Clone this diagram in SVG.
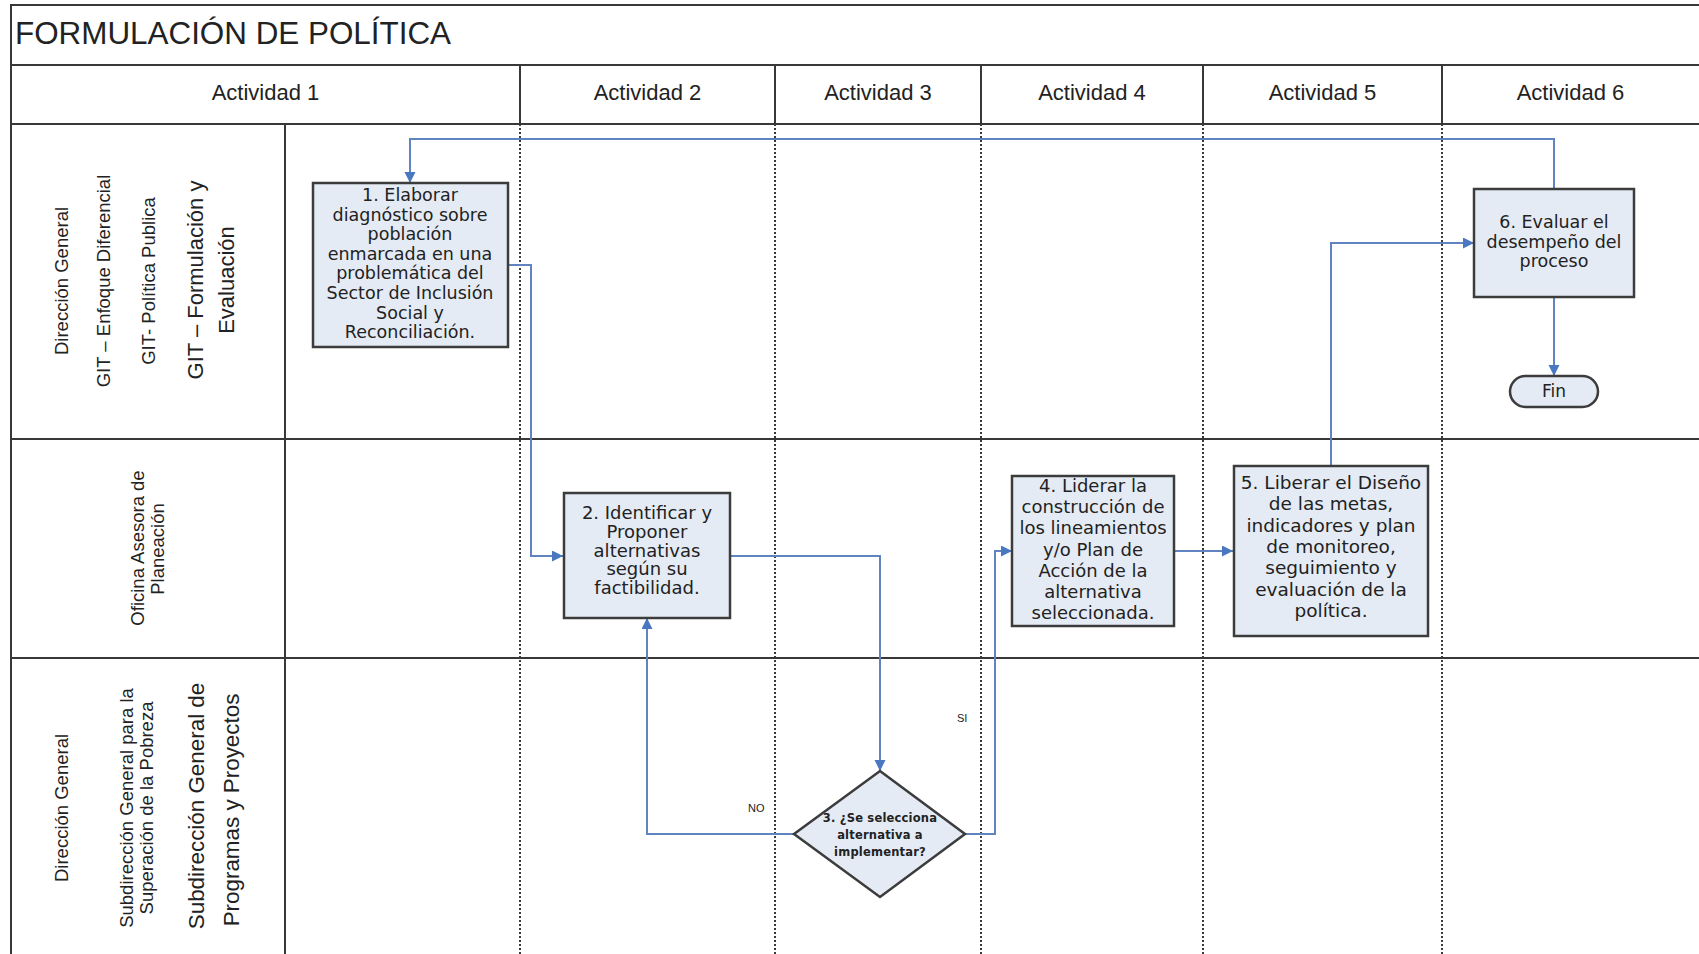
<svg xmlns="http://www.w3.org/2000/svg" width="1699" height="954" viewBox="0 0 1699 954">
<style>
.grid{stroke:#383838;stroke-width:2;fill:none}
.dot{stroke:#3a3a3a;stroke-width:2;stroke-dasharray:2 2;fill:none}
.hdr{font-family:"Liberation Sans",Arial,sans-serif;font-size:22px;fill:#222;text-anchor:middle}
.lane{font-family:"Liberation Sans",Arial,sans-serif;fill:#222;text-anchor:middle}
.box{fill:#e5ebf5;stroke:#3c3c3c;stroke-width:2.5}
.bt{font-family:"DejaVu Sans",Verdana,sans-serif;fill:#222;text-anchor:middle}
.conn{stroke:#5f84bf;stroke-width:2;fill:none}
.lbl{font-family:"Liberation Sans",Arial,sans-serif;font-size:11px;fill:#222}
</style>
<defs>
<marker id="arr" markerUnits="userSpaceOnUse" markerWidth="12" markerHeight="12" refX="11" refY="5.5" orient="auto">
<path d="M0,0 L11,5.5 L0,11 z" fill="#4a78c0"/>
</marker>
</defs>
<rect width="1699" height="954" fill="#ffffff"/>
<g id="grid">
<path class="grid" d="M1699,5 H11 V954"/>
<path class="grid" d="M11,65 H1699"/>
<path class="grid" d="M11,124 H1699"/>
<path class="grid" d="M11,439 H1699"/>
<path class="grid" d="M11,658 H1699"/>
<path class="grid" d="M285,124 V954"/>
<path class="grid" d="M520,65 V124 M775,65 V124 M981,65 V124 M1203,65 V124 M1442,65 V124"/>
<path class="dot" d="M520,124 V954 M775,124 V954 M981,124 V954 M1203,124 V954 M1442,124 V954"/>
</g>
<g id="title">
<text x="15" y="44" font-family="'Liberation Sans',Arial,sans-serif" font-size="31.4" fill="#222">FORMULACIÓN DE POLÍTICA</text>
</g>
<g id="headers">
<text class="hdr" x="265.5" y="100">Actividad 1</text>
<text class="hdr" x="647.5" y="100">Actividad 2</text>
<text class="hdr" x="878" y="100">Actividad 3</text>
<text class="hdr" x="1092" y="100">Actividad 4</text>
<text class="hdr" x="1322.5" y="100">Actividad 5</text>
<text class="hdr" x="1570.5" y="100">Actividad 6</text>
</g>
<g id="lane1">
<text class="lane" font-size="18.5" transform="translate(68,281) rotate(-90)">Dirección General</text>
<text class="lane" font-size="18.5" transform="translate(110,281) rotate(-90)">GIT – Enfoque Diferencial</text>
<text class="lane" font-size="18.5" transform="translate(155,281) rotate(-90)">GIT- Política Publica</text>
<text class="lane" font-size="22" transform="translate(203,280) rotate(-90)">GIT – Formulación y</text>
<text class="lane" font-size="22" transform="translate(234,280) rotate(-90)">Evaluación</text>
</g>
<g id="lane2">
<text class="lane" font-size="18.5" transform="translate(144,548) rotate(-90)">Oficina Asesora de</text>
<text class="lane" font-size="18.5" transform="translate(164,549) rotate(-90)">Planeación</text>
</g>
<g id="lane3">
<text class="lane" font-size="18.5" transform="translate(68,808) rotate(-90)">Dirección General</text>
<text class="lane" font-size="18.5" transform="translate(133,808) rotate(-90)">Subdirección General para la</text>
<text class="lane" font-size="18.5" transform="translate(153,808) rotate(-90)">Superación de la Pobreza</text>
<text class="lane" font-size="22.4" transform="translate(204,806) rotate(-90)">Subdirección General de</text>
<text class="lane" font-size="22.4" transform="translate(239,810) rotate(-90)">Programas y Proyectos</text>
</g>
<g id="connectors">
<path class="conn" d="M1554,189 V139 H410 V183" marker-end="url(#arr)"/>
<path class="conn" d="M508,265 H531 V556 H563" marker-end="url(#arr)"/>
<path class="conn" d="M730,556 H880 V771" marker-end="url(#arr)"/>
<path class="conn" d="M794,834 H647 V618" marker-end="url(#arr)"/>
<path class="conn" d="M965,834 H995 V551 H1012" marker-end="url(#arr)"/>
<path class="conn" d="M1174,551 H1233" marker-end="url(#arr)"/>
<path class="conn" d="M1331,466 V243 H1474" marker-end="url(#arr)"/>
<path class="conn" d="M1554,297 V376" marker-end="url(#arr)"/>
<text class="lbl" x="748" y="812">NO</text>
<text class="lbl" x="957" y="722">SI</text>
</g>
<g id="node1">
<rect class="box" x="313" y="183" width="195" height="164"/>
<text class="bt" font-size="17.5"><tspan x="410" y="201">1. Elaborar</tspan><tspan x="410" y="220.6">diagnóstico sobre</tspan><tspan x="410" y="240.2">población</tspan><tspan x="410" y="259.8">enmarcada en una</tspan><tspan x="410" y="279.4">problemática del</tspan><tspan x="410" y="299">Sector de Inclusión</tspan><tspan x="410" y="318.6">Social  y</tspan><tspan x="410" y="338.2">Reconciliación.</tspan></text>
</g>
<g id="node2">
<rect class="box" x="564" y="493" width="166" height="125"/>
<text class="bt" font-size="18"><tspan x="647" y="519">2. Identificar y</tspan><tspan x="647" y="537.8">Proponer</tspan><tspan x="647" y="556.5">alternativas</tspan><tspan x="647" y="575.3">según su</tspan><tspan x="647" y="594">factibilidad.</tspan></text>
</g>
<g id="node3">
<polygon class="box" points="880,771 965,834 880,897 794,834"/>
<text class="bt" font-size="11.5" font-weight="bold" letter-spacing="0.2"><tspan x="880" y="822">3. ¿Se selecciona</tspan><tspan x="880" y="839">alternativa a</tspan><tspan x="880" y="856">implementar?</tspan></text>
</g>
<g id="node4">
<rect class="box" x="1012" y="476" width="162" height="150"/>
<text class="bt" font-size="18"><tspan x="1093" y="492">4. Liderar la</tspan><tspan x="1093" y="513.2">construcción de</tspan><tspan x="1093" y="534.4">los lineamientos</tspan><tspan x="1093" y="555.6">y/o Plan de</tspan><tspan x="1093" y="576.8">Acción de la</tspan><tspan x="1093" y="598">alternativa</tspan><tspan x="1093" y="619">seleccionada.</tspan></text>
</g>
<g id="node5">
<rect class="box" x="1234" y="466" width="194" height="170"/>
<text class="bt" font-size="18.5"><tspan x="1331" y="489">5. Liberar el Diseño</tspan><tspan x="1331" y="510.3">de las metas,</tspan><tspan x="1331" y="531.6">indicadores y plan</tspan><tspan x="1331" y="553">de monitoreo,</tspan><tspan x="1331" y="574.3">seguimiento y</tspan><tspan x="1331" y="595.6">evaluación de la</tspan><tspan x="1331" y="617">política.</tspan></text>
</g>
<g id="node6">
<rect class="box" x="1474" y="189" width="160" height="108"/>
<text class="bt" font-size="17.5"><tspan x="1554" y="228">6. Evaluar el</tspan><tspan x="1554" y="248">desempeño del</tspan><tspan x="1554" y="267">proceso</tspan></text>
</g>
<g id="fin">
<rect class="box" x="1510" y="376" width="88" height="31" rx="15.5"/>
<text class="bt" font-size="17" x="1554" y="397">Fin</text>
</g>
</svg>
